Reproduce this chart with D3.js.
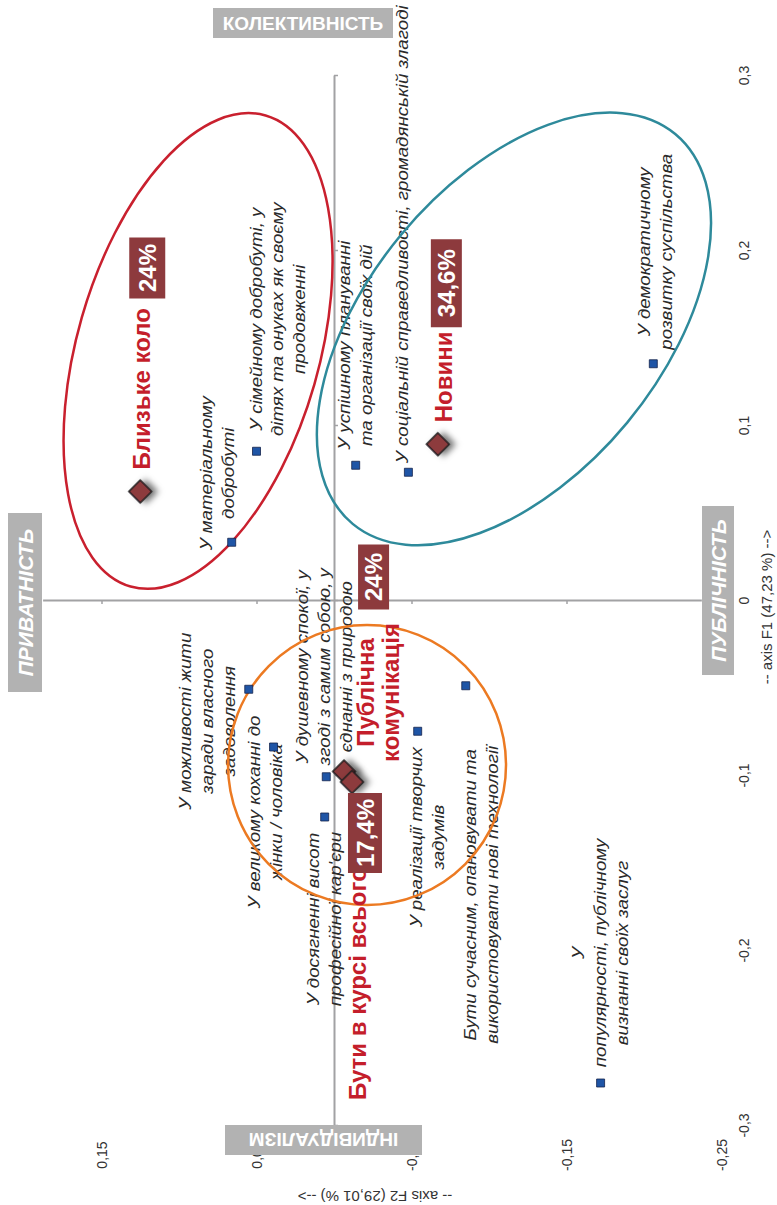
<!DOCTYPE html>
<html>
<head>
<meta charset="utf-8">
<script src="https://cdn.jsdelivr.net/npm/d3@7"></script>
<style>
    body { margin: 0; background: #fff; }
    text { font-family: "Liberation Sans", Arial, sans-serif; }
</style>
</head>
<body>
<div id="chart"></div>
<script>
// axis ticks
var f1Ticks = [-0.3, -0.2, -0.1, 0, 0.1, 0.2, 0.3];
var f1TickLabels = ["-0,3", "-0,2", "-0,1", "0", "0,1", "0,2", "0,3"];
var f2Ticks = [0.15, 0.05, -0.05, -0.15, -0.25];
var f2TickLabels = ["0,15", "0,05", "-0,05", "-0,15", "-0,25"];

// active variables (blue squares)
var pointNames = [
    ["У матеріальному", "добробуті"],
    ["У сімейному добробуті, у", "дітях та онуках як своєму", "продовженні"],
    ["У успішному плануванні", "та організації своїх дій"],
    ["У соціальній справедливості, громадянській злагоді"],
    ["У демократичному", "розвитку суспільства"],
    ["У можливості жити", "заради власного", "задоволення"],
    ["У великому коханні до", "жінки / чоловіка"],
    ["У душевному спокої, у", "згоді з самим собою, у", "єднанні з природою"],
    ["У досягненні висот", "професійної кар'єри"],
    ["У реалізації творчих", "задумів"],
    ["Бути сучасним, опановувати та", "використовувати нові технології"],
    ["У", "популярності, публічному", "визнанні своїх заслуг"]
];
var pointF1 = [0.033, 0.085, 0.077, 0.073, 0.135, -0.051, -0.084, -0.101, -0.124, -0.075, -0.049, -0.276];
var pointF2 = [0.066, 0.050, -0.014, -0.048, -0.206, 0.055, 0.039, 0.005, 0.006, -0.054, -0.085, -0.172];

// supplementary variables (diamonds)
var catNames = [["Близьке коло"], ["Новини"], ["Публічна", "комунікація"], ["Бути в курсі всього"]];
var catPct = ["24%", "34,6%", "24%", "17,4%"];
var catF1 = [0.062, 0.089, -0.098, -0.104];
var catF2 = [0.125, -0.067, -0.0065, -0.0116];

// pole captions
var poleNames = ["КОЛЕКТИВНІСТЬ", "ПРИВАТНІСТЬ", "ПУБЛІЧНІСТЬ", "ІНДИВІДУАЛІЗМ"];

(function() {

    var width = 777,
        height = 1205;

    var svg = d3.select("#chart")
        .append("svg")
        .attr("width", width)
        .attr("height", height);

    // the whole chart is turned on its side: F1 goes up, F2 goes left
    var y = d3.scaleLinear().domain([-0.3, 0.3]).range([1125, 75]);
    var x = d3.scaleLinear().domain([0.15, -0.25]).range([101.5, 721.5]);

    var axisColor = "#a2a2a4",
        textColor = "#333",
        red = "#c41e2b",
        maroon = "#8d3a3d",
        poleFill = "#b2b2b2";

    // shadow under the diamonds
    var defs = svg.append("defs");
    defs.append("filter")
        .attr("id", "shadow")
        .attr("x", "-100%").attr("y", "-100%")
        .attr("width", "300%").attr("height", "300%")
        .append("feDropShadow")
        .attr("dx", 4).attr("dy", -4)
        .attr("stdDeviation", 3)
        .attr("flood-color", "#000")
        .attr("flood-opacity", 0.55);

    // label offsets (px) from each square: line-1 baseline, middle of text
    var labelOffsets = [
        [-20, -69], [5, -132], [-6, -120], [0, -238], [-3, -112], [-58, 32],
        [-14, 65], [-18, -110], [-6, 102], [4, 106], [10, 209], [-17, -130]
    ];
    var labelLine = 22,
        labelStretch = 1.17;

    // outer tick labels, F1 (right side)
    svg.append("g")
        .attr("transform", "translate(744,0)")
        .call(d3.axisRight(y).tickValues(f1Ticks).tickSize(0)
            .tickFormat(function(d, i) { return f1TickLabels[i]; }))
        .call(function(g) { g.select(".domain").remove(); })
        .attr("font-family", null)
        .attr("font-size", 14)
        .selectAll("text")
        .attr("fill", textColor)
        .attr("x", 0).attr("y", 0).attr("dy", "0.35em")
        .attr("transform", "rotate(-90)")
        .style("text-anchor", "middle");

    // outer tick labels, F2 (bottom) - partly hidden by the grey box, as in the source
    svg.append("g")
        .attr("transform", "translate(0,1155)")
        .call(d3.axisBottom(x).tickValues(f2Ticks).tickSize(0)
            .tickFormat(function(d, i) { return f2TickLabels[i]; }))
        .call(function(g) { g.select(".domain").remove(); })
        .attr("font-family", null)
        .attr("font-size", 14)
        .selectAll("text")
        .attr("fill", textColor)
        .attr("x", 0).attr("y", 0).attr("dy", "0.35em")
        .attr("transform", "rotate(-90)")
        .style("text-anchor", "middle");

    // axis titles
    svg.append("text")
        .attr("transform", "translate(767,607) rotate(-90)")
        .attr("text-anchor", "middle").attr("dy", "0.35em")
        .attr("font-size", 15).attr("fill", textColor)
        .text("-- axis F1 (47,23 %) -->");
    svg.append("text")
        .attr("transform", "translate(375,1196) rotate(180)")
        .attr("text-anchor", "middle").attr("dy", "0.35em")
        .attr("font-size", 15).attr("fill", textColor)
        .text("-- axis F2 (29,01 %) -->");

    // axes through the origin
    svg.append("g")
        .attr("transform", "translate(" + x(0) + ",0)")
        .call(d3.axisRight(y).tickValues(f1Ticks).tickSize(4).tickSizeOuter(0).tickFormat(""))
        .call(function(g) {
            g.select(".domain").attr("stroke", axisColor).attr("stroke-width", 2);
            g.selectAll(".tick line").attr("stroke", axisColor).attr("stroke-width", 1.5);
        });

    var xLine = d3.scaleLinear().domain([0.188, -0.237]).range([x(0.188), x(-0.237)]);
    svg.append("g")
        .attr("transform", "translate(0," + y(0) + ")")
        .call(d3.axisBottom(xLine).tickValues(f2Ticks).tickSize(4).tickSizeOuter(0).tickFormat(""))
        .call(function(g) {
            g.select(".domain").attr("stroke", axisColor).attr("stroke-width", 2);
            g.selectAll(".tick line").attr("stroke", axisColor).attr("stroke-width", 1.5);
        });

    // labels of the squares
    svg.append("g")
        .selectAll("text")
        .data(pointNames)
        .join("text")
        .attr("transform", function(d, i) {
            return "translate(" + (x(pointF2[i]) + labelOffsets[i][0]) + "," + (y(pointF1[i]) + labelOffsets[i][1]) +
                ") scale(1," + labelStretch + ") rotate(-90)";
        })
        .attr("text-anchor", "middle")
        .attr("font-size", 16)
        .attr("font-style", "italic")
        .attr("fill", "#2a2a2a")
        .selectAll("tspan")
        .data(function(d) { return d; })
        .join("tspan")
        .attr("x", 0)
        .attr("dy", function(d, j) { return j === 0 ? 0 : labelLine; })
        .text(function(d) { return d; });

    // group ellipses: centre in data units, radii in px
    var ellipses = [
        { f1: 0.1423, f2: 0.0877, rx: 121, ry: 245, angle: 16, color: "#c9202e" },
        { f1: 0.1549, f2: -0.1161, rx: 147, ry: 253, angle: 39.6, color: "#2e8a9b" },
        { f1: -0.0943, f2: -0.0213, rx: 139, ry: 140, angle: 0, color: "#ec7a22" }
    ];
    svg.append("g")
        .selectAll("ellipse")
        .data(ellipses)
        .join("ellipse")
        .attr("transform", function(d) {
            return "translate(" + x(d.f2) + "," + y(d.f1) + ") rotate(" + d.angle + ")";
        })
        .attr("rx", function(d) { return d.rx; })
        .attr("ry", function(d) { return d.ry; })
        .attr("fill", "none")
        .attr("stroke", function(d) { return d.color; })
        .attr("stroke-width", 2.5);

    // squares
    svg.append("g")
        .selectAll("path")
        .data(pointF1)
        .join("path")
        .attr("transform", function(d, i) { return "translate(" + x(pointF2[i]) + "," + y(d) + ")"; })
        .attr("d", d3.symbol().type(d3.symbolSquare).size(64))
        .attr("fill", "#1f55a6")
        .attr("stroke", "#14234d")
        .attr("stroke-width", 0.8);

    // diamonds
    svg.append("g")
        .selectAll("path")
        .data(catF1)
        .join("path")
        .attr("transform", function(d, i) { return "translate(" + x(catF2[i]) + "," + y(d) + ") rotate(45)"; })
        .attr("d", d3.symbol().type(d3.symbolSquare).size(260))
        .attr("fill", maroon)
        .attr("stroke", "#1e1e1e")
        .attr("stroke-width", 1.5)
        .attr("filter", "url(#shadow)");

    // caption + percentage box for each diamond (offsets in px)
    var catLayout = [
        { tx: 10, ty: -22, anchor: "start", bx: -11, by: -254, bw: 36, bh: 61 },
        { tx: 14, ty: -22, anchor: "start", bx: -7, by: -205, bw: 31, bh: 88 },
        { tx: 30, ty: -79, anchor: "middle", bx: 14, by: -227, bw: 31, bh: 65 },
        { tx: 14, ty: 318, anchor: "start", bx: -4, by: 11, bw: 34, bh: 80 }
    ];

    var cat = svg.append("g")
        .selectAll("g")
        .data(catNames)
        .join("g")
        .attr("transform", function(d, i) { return "translate(" + x(catF2[i]) + "," + y(catF1[i]) + ")"; });

    cat.append("text")
        .attr("transform", function(d, i) {
            return "translate(" + catLayout[i].tx + "," + catLayout[i].ty + ") rotate(-90)";
        })
        .attr("text-anchor", function(d, i) { return catLayout[i].anchor; })
        .attr("font-size", 24)
        .attr("font-weight", "bold")
        .attr("fill", red)
        .selectAll("tspan")
        .data(function(d) { return d; })
        .join("tspan")
        .attr("x", 0)
        .attr("dy", function(d, j) { return j === 0 ? 0 : 25; })
        .text(function(d) { return d; });

    cat.append("rect")
        .attr("x", function(d, i) { return catLayout[i].bx; })
        .attr("y", function(d, i) { return catLayout[i].by; })
        .attr("width", function(d, i) { return catLayout[i].bw; })
        .attr("height", function(d, i) { return catLayout[i].bh; })
        .attr("fill", maroon);

    cat.append("text")
        .attr("transform", function(d, i) {
            var L = catLayout[i];
            return "translate(" + (L.bx + L.bw / 2) + "," + (L.by + L.bh / 2) + ") rotate(-90)";
        })
        .attr("text-anchor", "middle")
        .attr("dy", "0.36em")
        .attr("font-size", 24)
        .attr("font-weight", "bold")
        .attr("fill", "#fff")
        .text(function(d, i) { return catPct[i]; });

    // grey pole captions
    var poleBoxes = [
        { x: 213, y: 8, w: 180, h: 30, rot: 0, italic: false, size: 19 },
        { x: 8, y: 513, w: 34, h: 179, rot: -90, italic: true, size: 21 },
        { x: 702, y: 506, w: 32, h: 169, rot: -90, italic: true, size: 21 },
        { x: 225, y: 1125, w: 197, h: 30, rot: 180, italic: false, size: 19 }
    ];

    var pole = svg.append("g")
        .selectAll("g")
        .data(poleNames)
        .join("g");

    pole.append("rect")
        .attr("x", function(d, i) { return poleBoxes[i].x; })
        .attr("y", function(d, i) { return poleBoxes[i].y; })
        .attr("width", function(d, i) { return poleBoxes[i].w; })
        .attr("height", function(d, i) { return poleBoxes[i].h; })
        .attr("fill", poleFill);

    pole.append("text")
        .attr("transform", function(d, i) {
            var b = poleBoxes[i];
            return "translate(" + (b.x + b.w / 2) + "," + (b.y + b.h / 2) + ") rotate(" + b.rot + ")";
        })
        .attr("text-anchor", "middle")
        .attr("dy", "0.36em")
        .attr("font-size", function(d, i) { return poleBoxes[i].size; })
        .attr("font-weight", "bold")
        .attr("font-style", function(d, i) { return poleBoxes[i].italic ? "italic" : "normal"; })
        .attr("fill", "#fff")
        .text(function(d) { return d; });

})();
</script>
</body>
</html>
